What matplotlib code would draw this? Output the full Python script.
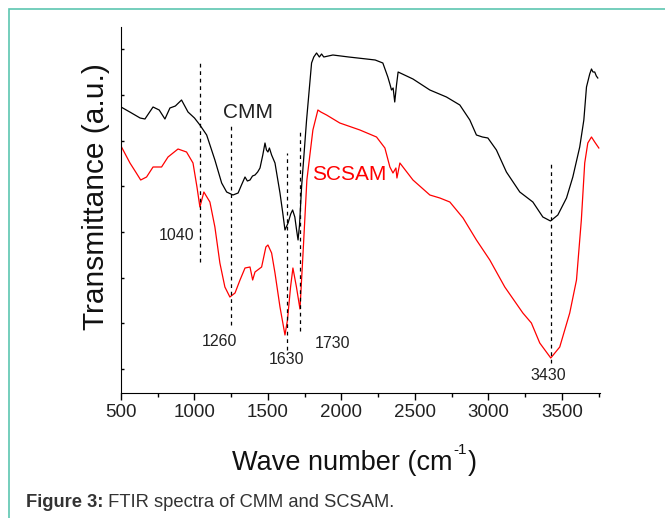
import matplotlib.pyplot as plt
from matplotlib.patches import Rectangle

plt.rcParams['font.family'] = ['Liberation Sans', 'DejaVu Sans']

# CMM spectrum (wave number, transmittance a.u.)
wn_cmm = [500, 560, 630, 663, 718, 760, 799, 833, 870, 912, 956, 1000, 1037, 1083,
          1139, 1185, 1219, 1262, 1297, 1320, 1344, 1360, 1378, 1395, 1412, 1430,
          1446, 1465, 1480, 1490, 1500, 1510, 1525, 1548, 1582, 1600, 1616, 1637,
          1655, 1668, 1683, 1695, 1705, 1715, 1729, 1763, 1797, 1812, 1831, 1850, 1865,
          1880, 1942, 2050, 2171, 2230, 2282, 2316, 2330, 2341, 2352, 2363, 2375, 2386,
          2487, 2602, 2715, 2806, 2874, 2919, 2960, 2997, 3055, 3123, 3214, 3303,
          3371, 3423, 3473, 3532, 3575, 3622, 3650, 3668, 3690, 3702, 3712, 3724,
          3735, 3745]
t_cmm = [286, 281, 275, 274, 286, 283, 274, 285, 287, 293, 281, 275, 268, 258,
         233, 210, 201, 198, 200, 208, 216, 212, 213, 217, 218, 221,
         225, 238, 250, 243, 241, 245, 238, 230, 200, 181, 163, 170,
         179, 183, 176, 163, 153, 168, 206, 273, 330, 336, 340, 336, 339,
         336, 338, 336, 334, 333, 330, 316, 309, 303, 305, 291, 308, 321,
         314, 303, 296, 288, 273, 258, 256, 255, 243, 221, 201, 191,
         176, 172, 178, 195, 216, 246, 273, 306, 319, 324, 321, 321,
         317, 315]

# SCSAM spectrum
wn_scsam = [500, 561, 600, 634, 674, 718, 776, 820, 888, 946, 990, 1017, 1037, 1064,
            1105, 1139, 1173, 1207, 1241, 1276, 1310, 1344, 1378, 1396, 1412, 1457,
            1486, 1500, 1525, 1548, 1582, 1616, 1633, 1654, 1670, 1694, 1718, 1739,
            1765, 1806, 1840, 1860, 1899, 1989, 2126, 2239, 2296, 2330, 2351, 2371,
            2378, 2398, 2487, 2602, 2670, 2738, 2828, 2919, 3010, 3112, 3235, 3293,
            3350, 3425, 3486, 3554, 3600, 3633, 3656, 3677, 3702, 3724, 3752]
t_scsam = [247, 230, 221, 213, 216, 226, 226, 236, 244, 241, 230, 206, 186, 201,
           191, 166, 130, 106, 96, 100, 113, 125, 126, 113, 121, 126,
           146, 148, 140, 120, 86, 58, 73, 106, 125, 106, 84, 140,
           213, 263, 283, 281, 278, 270, 263, 256, 245, 226, 220, 225,
           215, 230, 213, 198, 195, 191, 175, 153, 133, 106, 80, 70,
           50, 35, 46, 80, 113, 173, 230, 250, 256, 251, 245]

# marker lines: position, bottom, top
peak_x = [1037, 1248, 1627, 1715, 3425]
peak_lo = [131, 68, 43, 62, 30]
peak_hi = [331, 267, 240, 261, 229]

# peak labels
lab_text = ['1040', '1260', '1630', '1730', '3430']
lab_x = [881, 1173, 1623, 1942, 3405]
lab_y = [157, 52, 33, 50, 18]

fig = plt.figure(figsize=(6.65, 5.18), dpi=100)
ax = fig.add_axes([121/665, 1-393/518, 479/665, 366/518])

ax.plot(wn_cmm, t_cmm, '-', color='black', lw=0.9)
ax.plot(wn_scsam, t_scsam, '-', color='red', lw=0.9)
for px, lo, hi in zip(peak_x, peak_lo, peak_hi):
    ax.plot([px, px], [lo, hi], color='black', lw=0.9, ls=(0, (3, 3)))
for s, tx, ty in zip(lab_text, lab_x, lab_y):
    ax.text(tx, ty, s, fontsize=11.5, ha='center', va='center', color='#222222')

ax.text(1366, 281, 'CMM', fontsize=15, ha='center', va='center', color='#222222')
ax.text(2054, 218, 'SCSAM', fontsize=15, ha='center', va='center', color='red')

ax.set_xlim(500, 3760)
ax.set_ylim(0, 366)
ax.set_xticks([500, 1000, 1500, 2000, 2500, 3000, 3500])
ax.set_xticks([750, 1250, 1750, 2250, 2750, 3250, 3750], minor=True)
ax.set_yticks([24 + 45.7*k for k in range(8)])
ax.set_yticklabels([])
ax.tick_params(axis='x', which='major', direction='out', length=5, width=1,
               labelsize=13.5, pad=3, labelcolor='#222222')
ax.tick_params(axis='x', which='minor', direction='out', length=3, width=1)
ax.tick_params(axis='y', direction='in', length=2, width=1)
ax.spines['top'].set_visible(False)
ax.spines['right'].set_visible(False)

# x label with small "-1" superscript
xl = fig.text(232/665, 1-470/518, 'Wave number (cm', fontsize=19.5, ha='left',
              va='baseline', color='#111111')
sup = plt.annotate('-1', xy=(1, 0), xycoords=xl, xytext=(0.5, 14),
                   textcoords='offset points', fontsize=11, ha='left', va='bottom',
                   color='#111111')
plt.annotate(')', xy=(1, 0), xycoords=(sup, xl), xytext=(1, 0),
             textcoords='offset points', fontsize=19.5, ha='left', va='bottom',
             color='#111111')

fig.text(96/665, 1-197/518, 'Transmittance (a.u.)', fontsize=21.5, rotation=90,
         ha='center', va='center', color='#111111')

# caption
cap = fig.text(26/665, 1-507/518, 'Figure 3:', fontsize=13.2, fontweight='bold',
               ha='left', va='baseline', color='#333333')
plt.annotate(' FTIR spectra of CMM and SCSAM.', xy=(1, 0), xycoords=cap,
             fontsize=13.2, ha='left', va='bottom', color='#333333')

# teal border of the figure panel
fig.patches.append(Rectangle((9/665, -0.1), 1.2, 1-9/518+0.1, transform=fig.transFigure,
                             fill=False, edgecolor='#5cc6b0', lw=1.2))

plt.savefig('out.png')
